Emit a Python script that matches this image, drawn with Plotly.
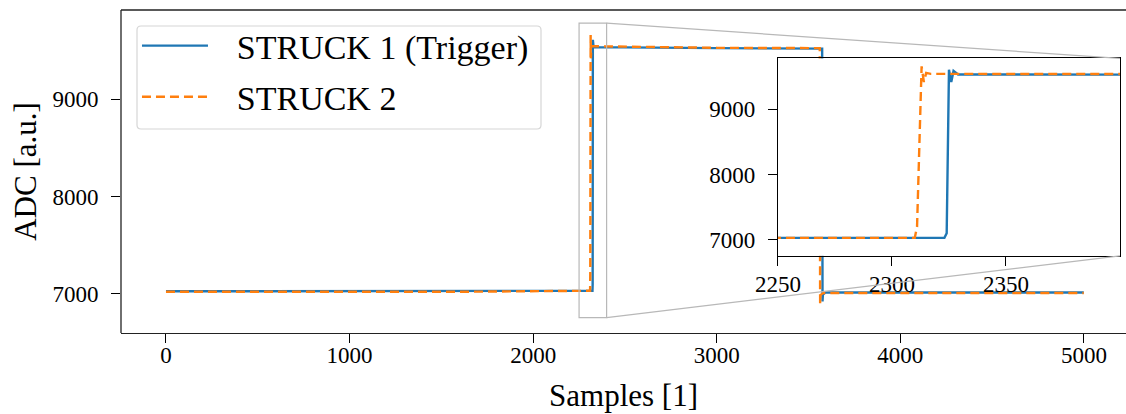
import plotly.graph_objects as go

# ---- data ----
s1_x = [0, 800, 1600, 2323, 2324, 2325, 2326, 2327, 2329, 3000, 3574, 3575, 3576, 3578, 3590, 4300, 4999]
s1_y = [7025, 7028, 7025, 7030, 7100, 9610, 9420, 9590, 9535, 9525, 9520, 8200, 6920, 6990, 7012, 7012, 7012]
s2_x = [0, 800, 1600, 2310, 2311, 2313, 2314, 2315, 2317, 3000, 3561, 3562, 3563, 3565, 3580, 4300, 4999]
s2_y = [7020, 7022, 7020, 7030, 7200, 9660, 9420, 9560, 9545, 9528, 9525, 8200, 6900, 6985, 7008, 7008, 7008]

x_ticks = [0, 1000, 2000, 3000, 4000, 5000]
y_ticks = [7000, 8000, 9000]
inset_x_ticks = [2250, 2300, 2350]
inset_y_ticks = [7000, 8000, 9000]

x_range = [-245, 5229]
y_range = [6596, 9917]
inset_x_range = [2250, 2400]
inset_y_range = [6755, 9782]
inset_dom_x = [0.6537, 0.994]
inset_dom_y = [0.239, 0.850]

BLUE = "#1f77b4"
ORANGE = "#ff7f0e"
FONT = "Liberation Serif"
PAD = "\u2002\u2009"

W, H = 1126, 414
ML, MR, MT, MB = 121, 0, 10, 81
PW, PH = W - ML - MR, H - MT - MB

fig = go.Figure()
fig.add_trace(go.Scatter(x=s1_x, y=s1_y, mode="lines", name=PAD + "STRUCK 1 (Trigger)",
                         line=dict(color=BLUE, width=2.4), legendgroup="a"))
fig.add_trace(go.Scatter(x=s2_x, y=s2_y, mode="lines", name=PAD + "STRUCK 2",
                         line=dict(color=ORANGE, width=2.4, dash="9px,5px"), legendgroup="b"))
fig.add_trace(go.Scatter(x=s1_x, y=s1_y, mode="lines", showlegend=False,
                         line=dict(color=BLUE, width=2.4), xaxis="x2", yaxis="y2"))
fig.add_trace(go.Scatter(x=s2_x, y=s2_y, mode="lines", showlegend=False,
                         line=dict(color=ORANGE, width=2.4, dash="9px,5px"), xaxis="x2", yaxis="y2"))

def px(v):
    return (v - x_range[0]) / (x_range[1] - x_range[0])

def py(v):
    return (v - y_range[0]) / (y_range[1] - y_range[0])

def pix_x(p):
    return (p - ML) / PW

def pix_y(p):
    return (H - MB - p) / PH

# rounded legend frame (pixel box converted to paper units)
lx0, lx1, ly0, ly1 = pix_x(137), pix_x(541), pix_y(129), pix_y(26)
rx, ry = 4 / PW, 4 / PH
legend_path = (
    f"M {lx0+rx},{ly0} L {lx1-rx},{ly0} Q {lx1},{ly0} {lx1},{ly0+ry} "
    f"L {lx1},{ly1-ry} Q {lx1},{ly1} {lx1-rx},{ly1} "
    f"L {lx0+rx},{ly1} Q {lx0},{ly1} {lx0},{ly1-ry} "
    f"L {lx0},{ly0+ry} Q {lx0},{ly0} {lx0+rx},{ly0} Z"
)

GRAY = "#b8b8b8"
FRAME = dict(color="#222", width=1.3)
shapes = [
    dict(type="path", xref="paper", yref="paper", path=legend_path,
         line=dict(color="#d6d6d6", width=1.2), fillcolor="white", layer="above"),
    dict(type="rect", xref="x", yref="y", x0=inset_x_range[0], x1=inset_x_range[1],
         y0=inset_y_range[0], y1=inset_y_range[1], line=dict(color=GRAY, width=1.2), layer="above"),
    dict(type="line", xref="paper", yref="paper", x0=px(inset_x_range[1]), y0=py(inset_y_range[1]),
         x1=inset_dom_x[1], y1=inset_dom_y[1], line=dict(color=GRAY, width=1.2), layer="above"),
    dict(type="line", xref="paper", yref="paper", x0=px(inset_x_range[1]), y0=py(inset_y_range[0]),
         x1=inset_dom_x[1], y1=inset_dom_y[0], line=dict(color=GRAY, width=1.2), layer="above"),
    # main frame: top and left (right side is cut off in the reference)
    dict(type="line", xref="paper", yref="paper", x0=0, x1=1.01, y0=1, y1=1, line=FRAME, layer="above"),
    dict(type="line", xref="paper", yref="paper", x0=0, x1=0, y0=0, y1=1, line=FRAME, layer="above"),
]

tickfont = dict(family=FONT, size=23, color="black")
common = dict(ticks="outside", ticklen=9, tickwidth=1.3, tickcolor="black",
              showgrid=False, zeroline=False, tickfont=tickfont, automargin=False)

fig.update_layout(
    width=W, height=H,
    margin=dict(l=ML, r=MR, t=MT, b=MB, autoexpand=False),
    paper_bgcolor="white", plot_bgcolor="white",
    showlegend=True,
    legend=dict(x=0.0159, y=pix_y(17), xanchor="left", yanchor="top",
                font=dict(family=FONT, size=34, color="black"),
                bgcolor="rgba(0,0,0,0)", borderwidth=0,
                tracegroupgap=4, itemwidth=66),
    xaxis=dict(range=x_range, domain=[0, 1], tickvals=x_ticks, showline=True, mirror=False,
               linecolor="#222", linewidth=1.3, ticklabelstandoff=-8,
               title=dict(text="Samples [1]", font=dict(family=FONT, size=31, color="black"), standoff=17),
               **common),
    yaxis=dict(range=y_range, domain=[0, 1], tickvals=y_ticks, showline=False,
               ticklabelstandoff=8,
               title=dict(text="ADC [a.u.]", font=dict(family=FONT, size=31, color="black"), standoff=6),
               **common),
    xaxis2=dict(range=inset_x_range, domain=inset_dom_x, anchor="y2", tickvals=inset_x_ticks,
                showline=True, mirror=True, linecolor="black", linewidth=1.3, ticklabelstandoff=-2, **common),
    yaxis2=dict(range=inset_y_range, domain=inset_dom_y, anchor="x2", tickvals=inset_y_ticks,
                showline=True, mirror=True, linecolor="black", linewidth=1.3, ticklabelstandoff=8, **common),
    shapes=shapes,
)

fig.write_html("out.html", config={"displayModeBar": False},
               post_script="document.body.style.margin='0';document.body.style.overflow='hidden';")
